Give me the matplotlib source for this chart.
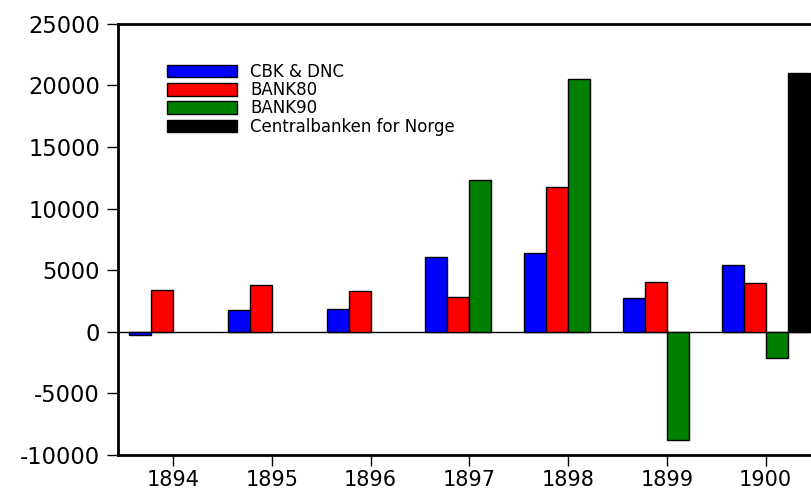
import numpy as np
import matplotlib
matplotlib.use("Agg")
import matplotlib.pyplot as plt

plt.rcParams['font.family'] = ['DejaVu Sans']
plt.rcParams['axes.unicode_minus'] = False

# Data
years = [1894, 1895, 1896, 1897, 1898, 1899, 1900]
cbk_dnc = [-270, 1740, 1880, 6040, 6420, 2720, 5400]
bank80 = [3370, 3820, 3290, 2850, 11730, 4020, 3990]
bank90 = [0, 0, 0, 12340, 20550, -8780, -2100]
centralbanken = [0, 0, 0, 0, 0, 0, 21040]

series = [
    ("CBK & DNC", cbk_dnc, "#0000ff"),
    ("BANK80", bank80, "#ff0000"),
    ("BANK90", bank90, "#008000"),
    ("Centralbanken for Norge", centralbanken, "#000000"),
]

fig = plt.figure(figsize=(8.11, 4.91), dpi=100)
ax = fig.add_axes([0.1455, 0.0733, 0.8545, 0.878])

x = np.array(years, dtype=float)
w = 0.223
for i, (name, vals, col) in enumerate(series):
    vals = np.array(vals, dtype=float)
    mask = vals != 0  # missing values are not drawn
    ax.bar(x[mask] + (i - 1.5) * w, vals[mask], width=w, color=col,
           edgecolor="black", linewidth=1.0, label=name)

ax.axhline(0, color="black", linewidth=1.0, zorder=0.5)

ax.set_xlim(1893.44, 1900.46)
ax.set_ylim(-10000, 25000)
ax.set_xticks(years)
ax.set_yticks(np.arange(-10000, 25001, 5000))
ax.tick_params(axis="both", direction="out", length=8, width=1)
ax.tick_params(axis="y", labelsize=16.3, pad=5)
ax.tick_params(axis="x", labelsize=15, pad=3)

for s in ["left", "top", "bottom"]:
    ax.spines[s].set_linewidth(2)
ax.spines["right"].set_visible(False)

leg = ax.legend(loc="upper left", bbox_to_anchor=(0.07, 0.91), frameon=False,
                fontsize=12, handlelength=4.25, handleheight=0.78,
                handletextpad=0.78, labelspacing=0.02, borderpad=0, borderaxespad=0)

fig.savefig("out.png", dpi=100)
